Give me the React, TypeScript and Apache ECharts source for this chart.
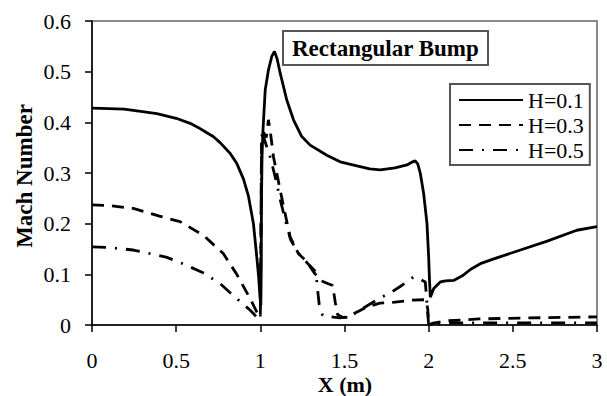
import React, { useEffect, useRef } from "react";
import * as echarts from "echarts";

const seriesNames = ["H=0.1", "H=0.3", "H=0.5"];

const h1X = [0, 0.1, 0.19, 0.3, 0.385, 0.5, 0.583, 0.63, 0.68, 0.72, 0.761, 0.82, 0.86, 0.9, 0.929, 0.959, 0.979, 0.99, 0.998, 1.003, 1.005, 1.007, 1.01, 1.015, 1.029, 1.048, 1.068, 1.084, 1.1, 1.118, 1.157, 1.197, 1.246, 1.296, 1.395, 1.474, 1.574, 1.65, 1.712, 1.8, 1.871, 1.905, 1.92, 1.935, 1.95, 1.97, 1.99, 2.0, 2.005, 2.01, 2.03, 2.069, 2.1, 2.148, 2.2, 2.25, 2.307, 2.4, 2.545, 2.7, 2.88, 3.0];
const h1Y = [0.428, 0.427, 0.426, 0.421, 0.417, 0.408, 0.398, 0.39, 0.38, 0.372, 0.36, 0.339, 0.319, 0.288, 0.255, 0.2, 0.134, 0.095, 0.055, 0.039, 0.1, 0.25, 0.33, 0.38, 0.464, 0.503, 0.53, 0.54, 0.525, 0.497, 0.444, 0.405, 0.372, 0.355, 0.335, 0.322, 0.314, 0.308, 0.306, 0.31, 0.316, 0.322, 0.324, 0.318, 0.3, 0.26, 0.2, 0.134, 0.088, 0.055, 0.072, 0.085, 0.087, 0.088, 0.097, 0.11, 0.121, 0.132, 0.148, 0.165, 0.187, 0.194];

const h3X = [0, 0.1, 0.245, 0.4, 0.523, 0.662, 0.78, 0.86, 0.94, 0.98, 1.0, 1.004, 1.007, 1.02, 1.035, 1.048, 1.06, 1.078, 1.118, 1.147, 1.177, 1.226, 1.276, 1.316, 1.356, 1.4, 1.43, 1.445, 1.46, 1.49, 1.52, 1.56, 1.63, 1.71, 1.8, 1.9, 1.985, 1.995, 2.0, 2.02, 2.1, 2.3, 2.6, 3.0];
const h3Y = [0.237, 0.236, 0.23, 0.215, 0.204, 0.177, 0.141, 0.1, 0.052, 0.025, 0.016, 0.2, 0.37, 0.38, 0.37, 0.405, 0.38, 0.332, 0.266, 0.22, 0.174, 0.141, 0.125, 0.105, 0.088, 0.082, 0.078, 0.045, 0.02, 0.015, 0.015, 0.023, 0.035, 0.043, 0.045, 0.049, 0.05, 0.03, 0.0, 0.003, 0.008, 0.012, 0.014, 0.016];

const h5X = [0, 0.1, 0.245, 0.44, 0.54, 0.66, 0.76, 0.85, 0.94, 0.98, 1.0, 1.004, 1.008, 1.02, 1.035, 1.06, 1.09, 1.12, 1.15, 1.18, 1.23, 1.28, 1.33, 1.34, 1.35, 1.37, 1.42, 1.47, 1.52, 1.56, 1.63, 1.71, 1.78, 1.84, 1.91, 1.95, 1.98, 2.0, 2.1, 2.5, 3.0];
const h5Y = [0.154, 0.153, 0.148, 0.134, 0.121, 0.103, 0.082, 0.055, 0.029, 0.015, 0.01, 0.2, 0.375, 0.37, 0.355, 0.33, 0.29, 0.245, 0.205, 0.168, 0.14, 0.122, 0.105, 0.07, 0.04, 0.019, 0.016, 0.014, 0.016, 0.023, 0.037, 0.053, 0.065, 0.078, 0.095, 0.09, 0.085, 0.0, 0.004, 0.004, 0.004];

const xTicks = { min: 0, max: 3, interval: 0.5 };
const yTicks = { min: 0, max: 0.6, interval: 0.1 };

const titleText = "Rectangular Bump";
const xTitle = "X (m)";
const yTitle = "Mach Number";

const zip = (xs: number[], ys: number[]) => xs.map((x, i) => [x, ys[i]]);

const FONT = '"Liberation Serif", "Times New Roman", serif';

export default function App() {
  const ref = useRef<HTMLDivElement>(null);
  useEffect(() => {
    if (!ref.current) return;
    const chart = echarts.init(ref.current, undefined, { renderer: "svg" });
    const lineTypes: any[] = ["solid", [12, 8], [14, 9, 2, 9]];
    const datas = [zip(h1X, h1Y), zip(h3X, h3Y), zip(h5X, h5Y)];
    chart.setOption({
      animation: false,
      backgroundColor: "#fff",
      grid: {
        left: 92,
        right: 10,
        top: 21,
        bottom: 71,
        show: true,
        borderColor: "#888",
        borderWidth: 2,
      },
      title: {
        text: titleText,
        left: 283,
        top: 31,
        padding: [6, 9, 5, 9],
        borderColor: "#555",
        borderWidth: 2,
        backgroundColor: "#fff",
        textStyle: { fontFamily: FONT, fontWeight: "bold", fontSize: 23, color: "#000" },
      },
      legend: {
        orient: "vertical",
        left: 450,
        top: 84,
        itemWidth: 64,
        itemHeight: 14,
        itemGap: 3,
        padding: [5, 6, 4, 8],
        borderColor: "#555",
        borderWidth: 2,
        backgroundColor: "#fff",
        data: seriesNames,
        itemStyle: { opacity: 0 },
        textStyle: { fontFamily: FONT, fontSize: 22, color: "#000", lineHeight: 22 },
      },
      xAxis: {
        type: "value",
        min: xTicks.min,
        max: xTicks.max,
        interval: xTicks.interval,
        axisLine: { lineStyle: { color: "#000", width: 1.5 } },
        axisTick: { show: true, inside: false, length: 7, lineStyle: { color: "#000", width: 1.5 } },
        axisLabel: { margin: 24, fontFamily: FONT, fontSize: 22, color: "#000", lineHeight: 22 },
        splitLine: { show: false },
      },
      yAxis: {
        type: "value",
        min: yTicks.min,
        max: yTicks.max,
        interval: yTicks.interval,
        axisLine: { show: true, lineStyle: { color: "#000", width: 1.5 } },
        axisTick: { show: true, inside: false, length: 7, lineStyle: { color: "#000", width: 1.5 } },
        axisLabel: { margin: 21, fontFamily: FONT, fontSize: 22, color: "#000" },
        splitLine: { show: false },
      },
      graphic: [
        {
          type: "text",
          x: 24,
          y: 176,
          rotation: Math.PI / 2,
          style: {
            text: yTitle,
            fontFamily: FONT,
            fontWeight: "bold",
            fontSize: 23,
            fill: "#000",
            align: "center",
            verticalAlign: "middle",
          },
        },
        {
          type: "text",
          x: 345,
          y: 384,
          style: {
            text: xTitle,
            fontFamily: FONT,
            fontWeight: "bold",
            fontSize: 22,
            lineHeight: 22,
            fill: "#000",
            align: "center",
            verticalAlign: "middle",
          },
        },
      ],
      series: seriesNames.map((name, i) => ({
        name,
        type: "line",
        data: datas[i],
        symbol: "none",
        smooth: false,
        z: 3 - i,
        lineStyle: { color: "#000", width: 2.8, type: lineTypes[i] },
        itemStyle: { color: "#000" },
      })),
    });
    return () => chart.dispose();
  }, []);
  return <div ref={ref} style={{ width: 607, height: 396, position: "absolute", left: 0, top: 0 }} />;
}
